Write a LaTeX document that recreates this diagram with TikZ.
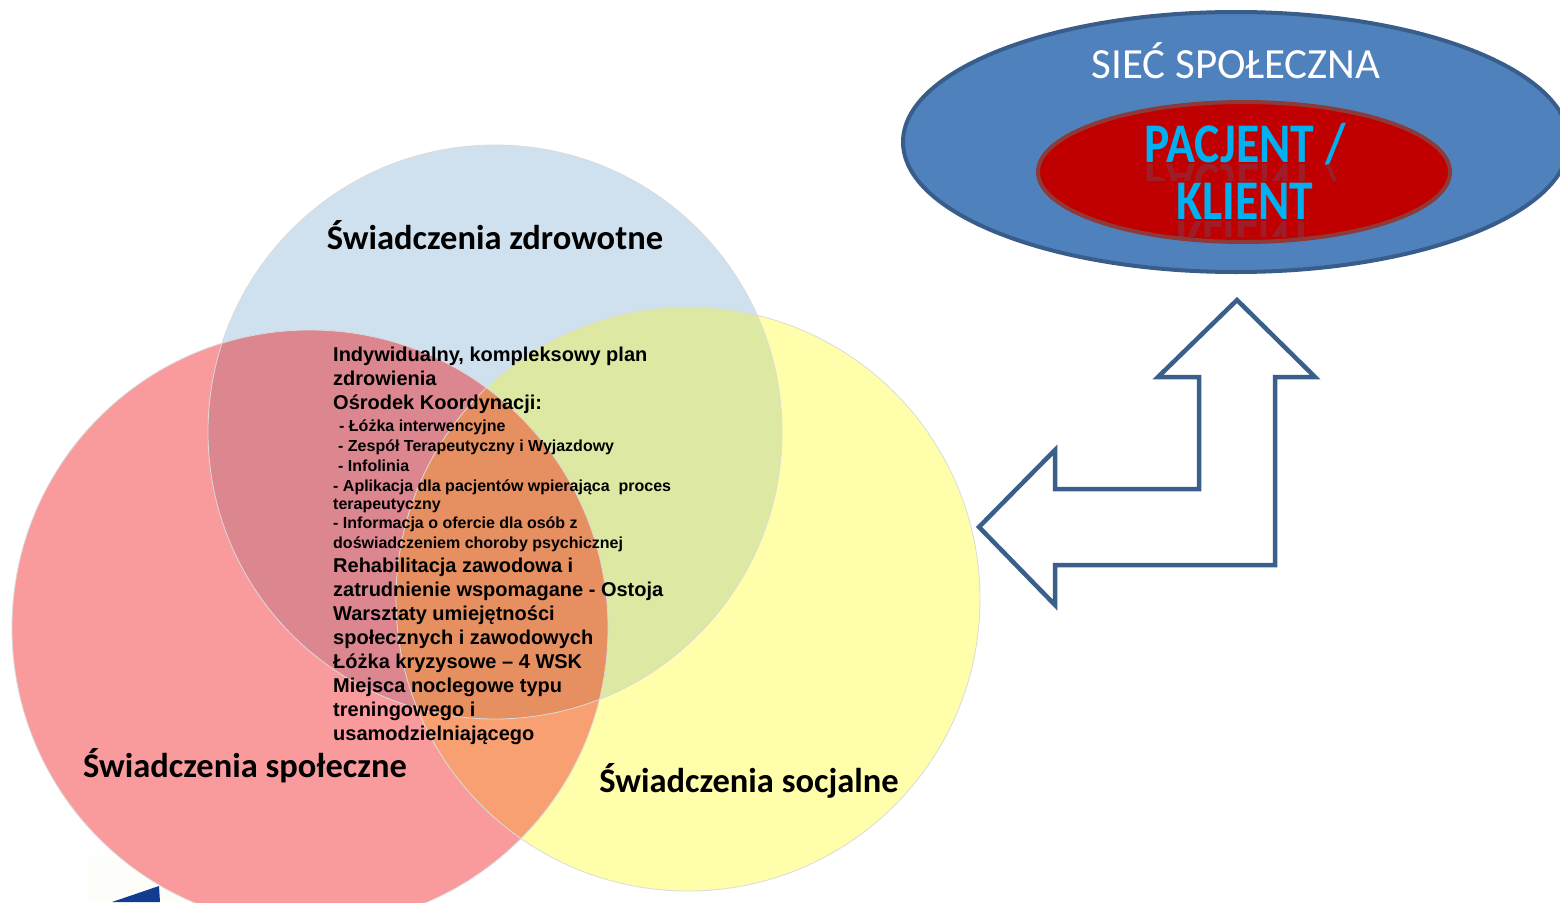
\documentclass[tikz,border=0pt]{standalone}
\usepackage{fontspec}
\usepackage{graphicx}
\setmainfont{Liberation Sans}
\newfontfamily\calfont{Carlito}
\definecolor{cBlue}{HTML}{CFE1EF}
\definecolor{cRed}{HTML}{F99B9C}
\definecolor{cYel}{HTML}{FFFEAA}
\definecolor{cRB}{HTML}{DC8690}
\definecolor{cBY}{HTML}{DDE8A3}
\definecolor{cRY}{HTML}{F9A072}
\definecolor{cRBY}{HTML}{E68F60}
\definecolor{arrowBlue}{HTML}{3A5F8B}
\definecolor{outerFill}{HTML}{4F81BD}
\definecolor{outerLine}{HTML}{385D8A}
\definecolor{innerFill}{HTML}{C00000}
\definecolor{innerLine}{HTML}{8E3A38}
\definecolor{cyanText}{HTML}{00B0F0}
\definecolor{navy}{HTML}{123C91}
\definecolor{cream}{HTML}{FDFDF9}
\begin{document}
\begin{tikzpicture}[x=1pt,y=-1pt,
  big/.style={anchor=base west,inner sep=0pt,font=\bfseries\fontsize{20}{24}\selectfont},
  small/.style={anchor=base west,inner sep=0pt,font=\bfseries\fontsize{16}{19}\selectfont},
  circlabel/.style={anchor=base,inner sep=0pt,font=\calfont\bfseries\fontsize{34.5}{40}\selectfont},
  rim/.style={draw=black!14,line width=0.8pt},
  patient/.style={anchor=base,inner sep=0pt,text=cyanText,font=\calfont\bfseries\fontsize{56}{60}\selectfont},
  mirror/.style={patient,yscale=-1,transform shape,opacity=0.17},
  shapearrow/.style={draw=arrowBlue,line width=4.5pt,line join=miter,miter limit=10}
  ]
\useasboundingbox (0,0) rectangle (1560,902);
\fill[white] (0,0) rectangle (1560,902);

% named centres
\coordinate (cB) at (495,432);
\coordinate (cR) at (310,628);
\coordinate (cY) at (688,599);

% faint backdrop and navy fragment bottom left
\fill[cream] (88,857) rectangle (330,902);
\fill[navy] (112,902) -- (159,886) -- (160,902) -- cycle;

% circles
\fill[cBlue] (cB) circle[radius=287pt];
\fill[cRed] (cR) circle[radius=298pt];
\fill[cYel] (cY) circle[radius=292pt];
\begin{scope}
  \clip (cB) circle[radius=287pt];
  \fill[cRB] (cR) circle[radius=298pt];
  \fill[cBY] (cY) circle[radius=292pt];
\end{scope}
\begin{scope}
  \clip (cR) circle[radius=298pt];
  \fill[cRY] (cY) circle[radius=292pt];
  \clip (cB) circle[radius=287pt];
  \fill[cRBY] (cY) circle[radius=292pt];
\end{scope}
\draw[rim] (cB) circle[radius=287pt];
\draw[rim] (cR) circle[radius=298pt];
\draw[rim] (cY) circle[radius=292pt];

% circle labels
\node[circlabel] (lz) at (495,249) {Świadczenia zdrowotne};
\node[circlabel] (lsp) at (245,777) {Świadczenia społeczne};
\node[circlabel] (lso) at (749,792) {Świadczenia socjalne};

% central text
\node[big] (t1) at (333,361) {Indywidualny, kompleksowy plan};
\node[big] (t2) at (333,385) {zdrowienia};
\node[big] (t3) at (333,409) {Ośrodek Koordynacji:};
\node[small] (t4) at (339,431) {- Łóżka interwencyjne};
\node[small] (t5) at (338,451) {- Zespół Terapeutyczny i Wyjazdowy};
\node[small] (t6) at (338,471) {- Infolinia};
\node[small] (t7) at (333,491) {- Aplikacja dla pacjentów wpierająca\ \ proces};
\node[small] (t8) at (333,509) {terapeutyczny};
\node[small] (t9) at (333,528) {- Informacja o ofercie dla osób z};
\node[small] (t10) at (333,548) {doświadczeniem choroby psychicznej};
\node[big] (t11) at (333,572) {Rehabilitacja zawodowa i};
\node[big] (t12) at (333,596) {zatrudnienie wspomagane - Ostoja};
\node[big] (t13) at (333,620) {Warsztaty umiejętności};
\node[big] (t14) at (333,644) {społecznych i zawodowych};
\node[big] (t15) at (333,668) {Łóżka kryzysowe – 4 WSK};
\node[big] (t16) at (333,692) {Miejsca noclegowe typu};
\node[big] (t17) at (333,716) {treningowego i};
\node[big] (t18) at (333,740) {usamodzielniającego};

% outer and inner ellipses
\draw[outerLine,line width=4pt,fill=outerFill] (1236,142) ellipse[x radius=333pt,y radius=130pt];
\draw[innerLine,line width=4pt,fill=innerFill] (1244,172) ellipse[x radius=206pt,y radius=70pt];
\node[anchor=base,inner sep=0pt,text=white,font=\calfont\fontsize{43}{50}\selectfont] (siec) at (1236,78) {SIEĆ SPOŁECZNA};

% reflections
\begin{scope}
  \clip (1100,164) rectangle (1400,180);
  \node[mirror] (pacr) at (1245,164) {\scalebox{0.85}[1]{PACJENT /}};
\end{scope}
\begin{scope}
  \clip (1100,221) rectangle (1400,236);
  \node[mirror] (klir) at (1245,221) {\scalebox{0.85}[1]{KLIENT}};
\end{scope}
\node[patient] (pac) at (1245,162) {\scalebox{0.85}[1]{PACJENT /}};
\node[patient] (kli) at (1245,219) {\scalebox{0.85}[1]{KLIENT}};

% bent double arrow
\draw[shapearrow] (1237,300) -- (1315,377) -- (1275,377) -- (1275,565) -- (1055,565)
  -- (1055,605) -- (979,527) -- (1055,450) -- (1055,489) -- (1199,489)
  -- (1199,377) -- (1158,377) -- cycle;
\end{tikzpicture}
\end{document}
